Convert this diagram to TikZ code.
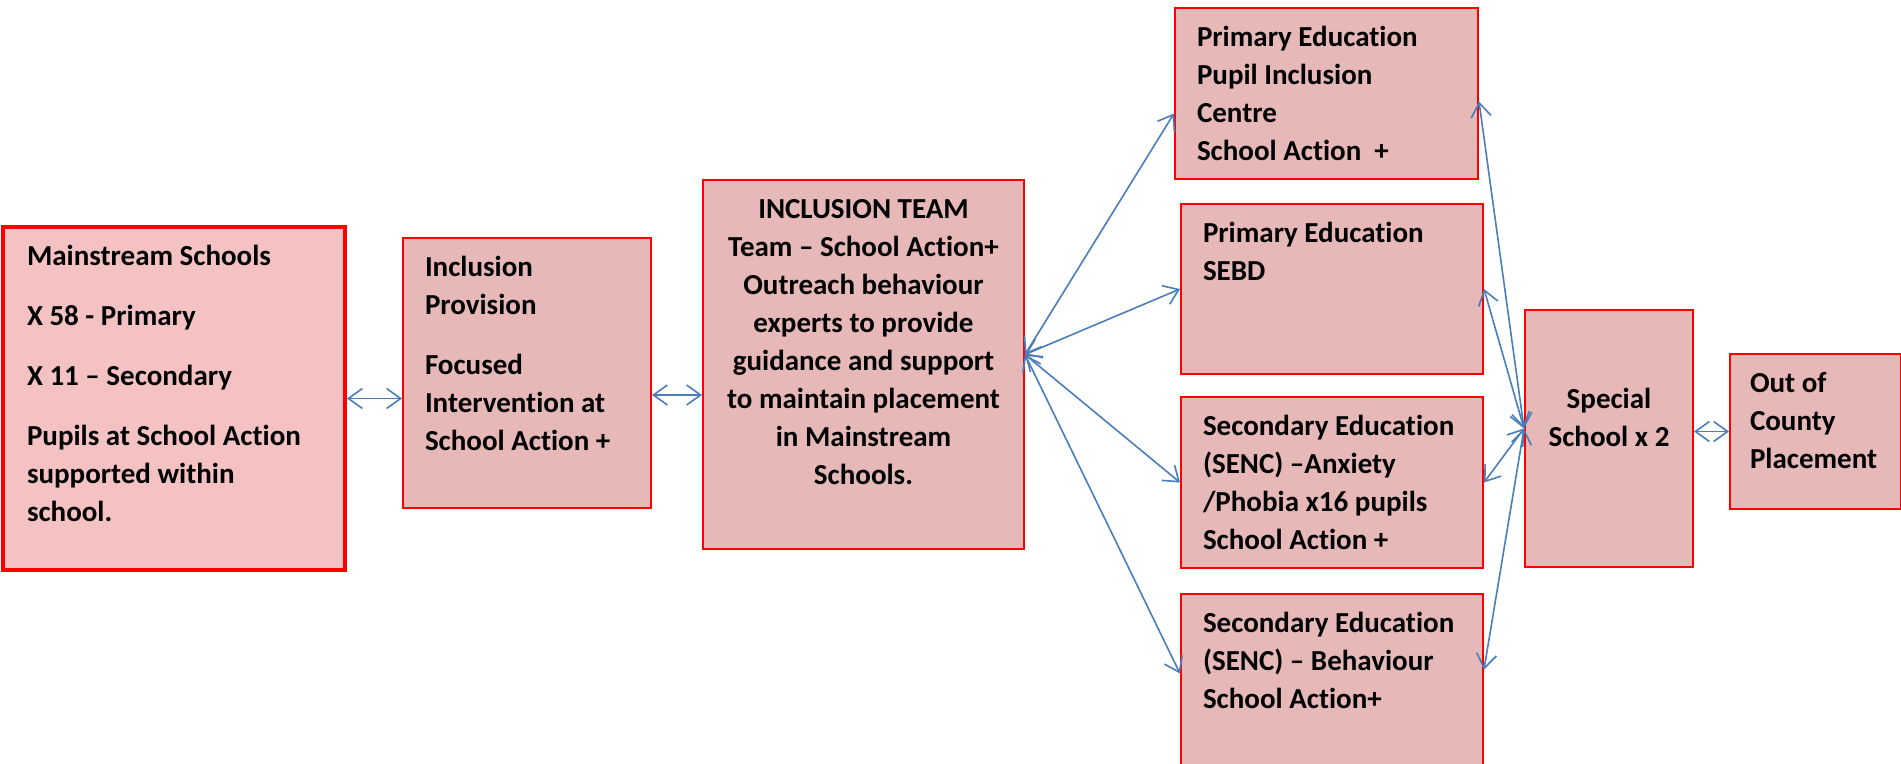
\documentclass[tikz,border=0pt]{standalone}
\usepackage{fontspec}
\setmainfont{Carlito}[Ligatures={TeX,NoCommon}]
\usetikzlibrary{arrows.meta}

\definecolor{boxred}{HTML}{FF0000}
\definecolor{boxpink}{HTML}{E6B8B7}
\definecolor{mainpink}{HTML}{F4C2C2}
\definecolor{linkblue}{HTML}{4A7EBB}

\newcommand{\stagetext}[3]{\parbox[c][#2][t]{#1}{\raggedright\strut#3}}

\begin{document}
\begin{tikzpicture}[x=.5pt,y=-.5pt]
\tikzstyle{every node}=[font=\bfseries\fontsize{14.5}{19}\selectfont]
\tikzstyle{stage}=[draw=boxred, fill=boxpink, line width=1pt, anchor=north west, inner xsep=11pt, inner ysep=6pt]
\tikzstyle{link}=[<->, >={Straight Barb[length=7pt,width=10pt]}, draw=linkblue, line width=.8pt]
\useasboundingbox (0,0) rectangle (1901,764);
% boxes, left to right
\node (main) [stage, fill=mainpink, line width=2pt, inner xsep=12pt] at (1,225) {\stagetext{147pt}{159.5pt}{Mainstream Schools\\[11pt] X 58 - Primary\\[11pt] X 11 – Secondary\\[11pt] Pupils at School Action\\ supported within\\ school.}};
\node (prov) [stage] at (402,237) {\stagetext{102pt}{123pt}{Inclusion\\ Provision\\[11pt] Focused\\ Intervention at\\ School Action +}};
\node (team) [stage, inner xsep=4pt] at (702,179) {\parbox[c][172.5pt][t]{152.5pt}{\centering\strut INCLUSION TEAM\\ Team – School Action+\\ Outreach behaviour\\ experts to provide\\ guidance and support\\ to maintain placement\\ in Mainstream\\ Schools.}};
\node (pic) [stage] at (1174,7) {\stagetext{129.5pt}{73.5pt}{Primary Education\\ Pupil Inclusion\\ Centre\\ School Action\ \ +}};
\node (sebd) [stage] at (1180,203) {\stagetext{129pt}{73pt}{Primary Education\\ SEBD}};
\node (anx) [stage] at (1180,396) {\stagetext{129pt}{73.5pt}{Secondary Education\\ (SENC) –Anxiety\\ /Phobia x16 pupils\\ School Action +}};
\node (beh) [stage] at (1180,593) {\stagetext{129pt}{81.5pt}{Secondary Education\\ (SENC) – Behaviour\\ School Action+}};
\node (special) [stage, inner xsep=4pt] at (1524,309) {\parbox[c][116.5pt][t]{76pt}{\centering\vspace*{30pt}\strut Special\\ School x 2}};
\node (ooc) [stage, inner xsep=10pt] at (1729,353) {\stagetext{65.5pt}{65.5pt}{Out of\\ County\\ Placement}};
% connectors
\coordinate (teamhub) at ([yshift=5pt]team.east);
\coordinate (spechub) at ([yshift=5pt]special.west);
\draw[link] (main.east) -- (main.east -| prov.west);
\draw[link] ([yshift=-11pt]prov.east) -- ([yshift=-11pt]prov.east -| team.west);
\draw[link] (teamhub) -- ([yshift=-10pt]pic.west);
\draw[link] (teamhub) -- (sebd.west);
\draw[link] (teamhub) -- (anx.west);
\draw[link] (teamhub) -- ([yshift=7pt]beh.west);
\draw[link] (spechub) -- ([yshift=-4pt]pic.east);
\draw[link] (spechub) -- (sebd.east);
\draw[link] (spechub) -- (anx.east);
\draw[link] (spechub) -- ([yshift=9pt]beh.east);
\draw[link] (ooc.west -| special.east) -- (ooc.west);
\end{tikzpicture}
\end{document}
